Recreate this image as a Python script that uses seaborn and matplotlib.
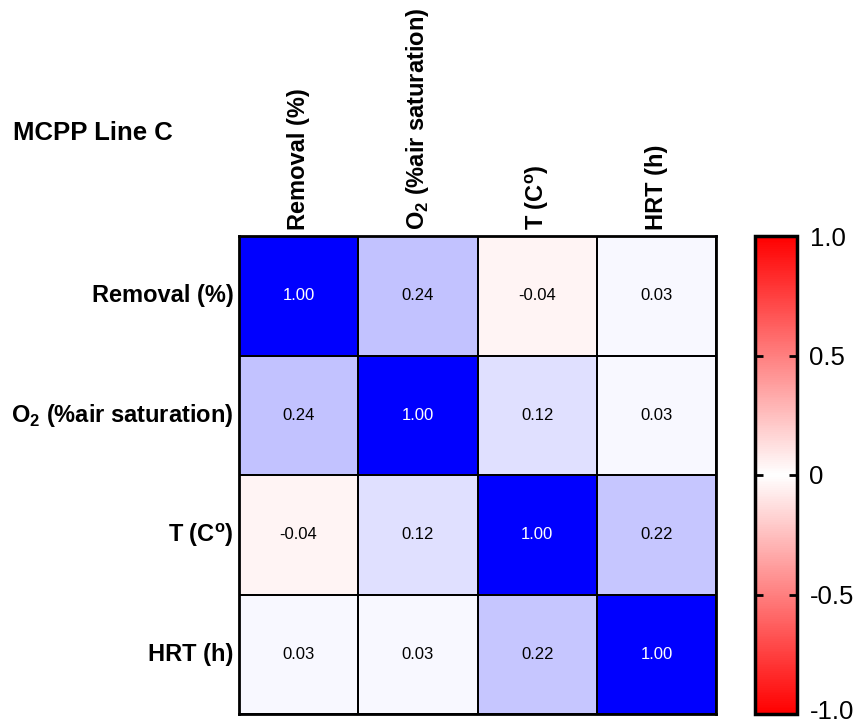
import numpy as np
import pandas as pd
import seaborn as sns
import matplotlib
matplotlib.use("Agg")
import matplotlib.pyplot as plt
from matplotlib.colors import LinearSegmentedColormap, Normalize
from matplotlib.cm import ScalarMappable
from matplotlib.transforms import ScaledTranslation

labels = ["Removal (%)", r"O$_{\mathregular{2}}$ (%air saturation)",
          r"T (C$^{\mathregular{o}}$)", "HRT (h)"]
row_removal = [1.00, 0.24, -0.04, 0.03]
row_o2 = [0.24, 1.00, 0.12, 0.03]
row_t = [-0.04, 0.12, 1.00, 0.22]
row_hrt = [0.03, 0.03, 0.22, 1.00]
cbar_ticks = [-1.0, -0.5, 0, 0.5, 1.0]
cbar_ticklabels = ["-1.0", "-0.5", "0", "0.5", "1.0"]
title = "MCPP Line C"

sns.set_theme(style="white")
plt.rcParams['font.family'] = ['Liberation Sans', 'DejaVu Sans']
plt.rcParams['mathtext.fontset'] = 'custom'
plt.rcParams['mathtext.rm'] = 'Liberation Sans'
plt.rcParams['text.color'] = 'black'
plt.rcParams['xtick.color'] = 'black'
plt.rcParams['ytick.color'] = 'black'
plt.rcParams['axes.labelcolor'] = 'black'

df = pd.DataFrame([row_removal, row_o2, row_t, row_hrt], index=labels, columns=labels)

cell_cmap = LinearSegmentedColormap.from_list("rwb", ["#ff0000", "#ffffff", "#0000ff"])
bar_cmap = LinearSegmentedColormap.from_list("rwr", ["#ff0000", "#ffffff", "#ff0000"])

fig = plt.figure(figsize=(8.57, 7.26), dpi=100)
ax = fig.add_axes([239/857, 1-714/726, 477/857, 478/726])
cax = fig.add_axes([755/857, 1-714/726, 42/857, 478/726])

sns.heatmap(df, ax=ax, cmap=cell_cmap, vmin=-1, vmax=1, cbar=False,
            linewidths=1.4, linecolor="black", annot=False, square=False)

for i in range(df.shape[0]):
    for j in range(df.shape[1]):
        v = df.iloc[i, j]
        ax.text(j + 0.5, i + 0.5, f"{v:.2f}", ha="center", va="center",
                fontsize=12, color="white" if v > 0.6 else "black")

ax.xaxis.tick_top()
ax.set_xticklabels(labels, rotation=90, fontsize=17, fontweight="bold", va="bottom", color="black")
ax.set_yticklabels(labels, rotation=0, fontsize=17, fontweight="bold", color="black")
ax.tick_params(axis="both", length=0, pad=4)
ax.set_xlabel("")
ax.set_ylabel("")
for s in ax.spines.values():
    s.set_visible(True)
    s.set_linewidth(2)
    s.set_color("black")

sm = ScalarMappable(norm=Normalize(-1, 1), cmap=bar_cmap)
cb = fig.colorbar(sm, cax=cax)
cb.set_ticks(cbar_ticks)
cb.set_ticklabels(cbar_ticklabels)
cb.outline.set_linewidth(2.5)
cb.outline.set_edgecolor("black")
cax.set_axisbelow(False)
cax.yaxis.set_ticks_position("both")
cax.tick_params(axis="y", which="major", direction="in", length=6, width=2,
                left=True, right=True, labelleft=False, labelright=True,
                labelsize=18.5, pad=9, colors="black")
cax.minorticks_off()
for t in cax.get_yticklabels():
    if t.get_text() == "-1.0":
        t.set_transform(t.get_transform() + ScaledTranslation(0, 3/72, fig.dpi_scale_trans))

fig.text(13/857, 1-133/726, title, fontsize=18.5, fontweight="bold",
         va="center", ha="left", color="black")

fig.savefig("out.png", dpi=100)
